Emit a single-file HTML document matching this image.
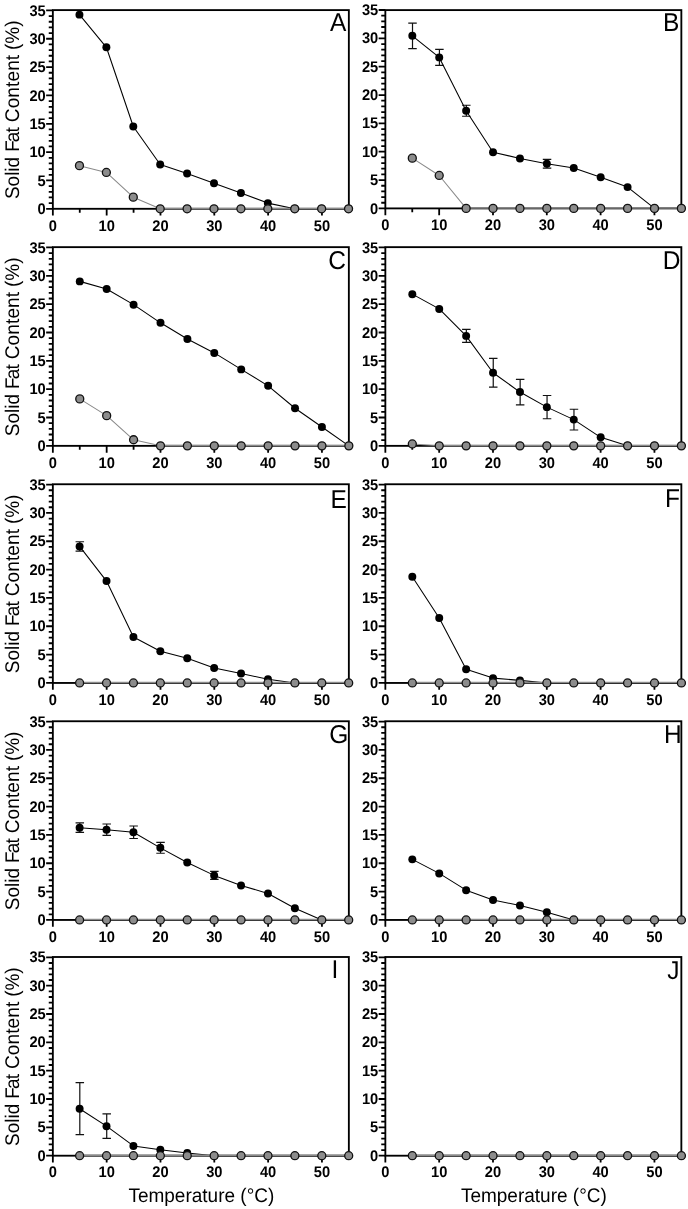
<!DOCTYPE html>
<html lang="en"><head><meta charset="utf-8"><title>Solid Fat Content vs Temperature</title>
<style>html,body{margin:0;padding:0;background:#fff}svg{display:block}text{font-family:"Liberation Sans",Arial,sans-serif;fill:#000;text-rendering:geometricPrecision}.t{font-size:14.7px;font-weight:bold}.yl{font-size:19px}.xl{font-size:19px}.pl{font-size:24.5px}.ax{stroke:#000;stroke-width:1.85;fill:none;stroke-linecap:butt}.tk{stroke:#000;stroke-width:1.8;fill:none}.bl{stroke:#000;stroke-width:1.06;fill:none;stroke-linejoin:round}.gl{stroke:#8a8a8a;stroke-width:1.05;fill:none;stroke-linejoin:round}.gz{stroke:#8a8a8a;stroke-width:1.5;fill:none}.eb{stroke:#111;stroke-width:1.2;fill:none}.bm{fill:#000}.gm{fill:#8c8c8c;stroke:#111;stroke-width:1.3}</style></head><body>
<svg width="688" height="1209" viewBox="0 0 688 1209">
<rect width="688" height="1209" fill="#fff"/>
<g id="panel-A">
<path class="tk" d="M52.85 208.8H46.15M52.85 203.13H48.75M52.85 197.46H48.75M52.85 191.8H48.75M52.85 186.13H48.75M52.85 180.46H46.15M52.85 174.79H48.75M52.85 169.12H48.75M52.85 163.46H48.75M52.85 157.79H48.75M52.85 152.12H46.15M52.85 146.45H48.75M52.85 140.78H48.75M52.85 135.12H48.75M52.85 129.45H48.75M52.85 123.78H46.15M52.85 118.11H48.75M52.85 112.44H48.75M52.85 106.78H48.75M52.85 101.11H48.75M52.85 95.44H46.15M52.85 89.77H48.75M52.85 84.1H48.75M52.85 78.44H48.75M52.85 72.77H48.75M52.85 67.1H46.15M52.85 61.43H48.75M52.85 55.76H48.75M52.85 50.1H48.75M52.85 44.43H48.75M52.85 38.76H46.15M52.85 33.09H48.75M52.85 27.42H48.75M52.85 21.76H48.75M52.85 16.09H48.75M52.85 10.42H46.15M52.85 208.8V215.6M79.76 208.8V212.7M106.67 208.8V215.6M133.58 208.8V212.7M160.49 208.8V215.6M187.4 208.8V212.7M214.3 208.8V215.6M241.21 208.8V212.7M268.12 208.8V215.6M295.03 208.8V212.7M321.94 208.8V215.6M348.85 208.8V212.7"/>
<rect class="ax" x="52.85" y="10.1" width="296" height="198.7"/>
<text class="t" text-anchor="end" transform="translate(45.75 213.9) scale(1 1.05)">0</text>
<text class="t" text-anchor="end" transform="translate(45.75 185.56) scale(1 1.05)">5</text>
<text class="t" text-anchor="end" transform="translate(45.75 157.22) scale(1 1.05)">10</text>
<text class="t" text-anchor="end" transform="translate(45.75 128.88) scale(1 1.05)">15</text>
<text class="t" text-anchor="end" transform="translate(45.75 100.54) scale(1 1.05)">20</text>
<text class="t" text-anchor="end" transform="translate(45.75 72.2) scale(1 1.05)">25</text>
<text class="t" text-anchor="end" transform="translate(45.75 43.86) scale(1 1.05)">30</text>
<text class="t" text-anchor="end" transform="translate(45.75 15.52) scale(1 1.05)">35</text>
<text class="t" text-anchor="middle" transform="translate(52.85 230.5) scale(1 1.05)">0</text>
<text class="t" text-anchor="middle" transform="translate(106.67 230.5) scale(1 1.05)">10</text>
<text class="t" text-anchor="middle" transform="translate(160.49 230.5) scale(1 1.05)">20</text>
<text class="t" text-anchor="middle" transform="translate(214.3 230.5) scale(1 1.05)">30</text>
<text class="t" text-anchor="middle" transform="translate(268.12 230.5) scale(1 1.05)">40</text>
<text class="t" text-anchor="middle" transform="translate(321.94 230.5) scale(1 1.05)">50</text>
<text class="pl" transform="translate(329.95 31.25) scale(1 1.05)">A</text>
<text class="yl" text-anchor="middle" transform="translate(19.3 109.75) rotate(-90) scale(1 1.04)">Solid<tspan dx="-0.3"> F</tspan><tspan dx="-1.9">a</tspan><tspan dx="-0.8">t</tspan><tspan dx="-0.5" letter-spacing="0.13"> Content</tspan><tspan dx="-0.5"> (%)</tspan></text>
<polyline class="bl" points="79.46,14.64 106.37,47.29 133.28,126.48 160.19,164.52 187.1,173.6 214,183.25 240.91,192.9 267.82,203.12 294.73,208.8 321.64,208.8 348.55,208.8"/>
<circle class="bm" cx="79.46" cy="14.64" r="3.98"/>
<circle class="bm" cx="106.37" cy="47.29" r="3.98"/>
<circle class="bm" cx="133.28" cy="126.48" r="3.98"/>
<circle class="bm" cx="160.19" cy="164.52" r="3.98"/>
<circle class="bm" cx="187.1" cy="173.6" r="3.98"/>
<circle class="bm" cx="214" cy="183.25" r="3.98"/>
<circle class="bm" cx="240.91" cy="192.9" r="3.98"/>
<circle class="bm" cx="267.82" cy="203.12" r="3.98"/>
<circle class="bm" cx="294.73" cy="208.8" r="3.98"/>
<circle class="bm" cx="321.64" cy="208.8" r="3.98"/>
<circle class="bm" cx="348.55" cy="208.8" r="3.98"/>
<polyline class="gl" points="79.46,165.65 106.37,172.47 133.28,197.16 160.19,208.8"/>
<path class="gz" d="M160.19 208.45H348.55"/>
<circle class="gm" cx="79.46" cy="165.65" r="4"/>
<circle class="gm" cx="106.37" cy="172.47" r="4"/>
<circle class="gm" cx="133.28" cy="197.16" r="4"/>
<circle class="gm" cx="160.19" cy="208.8" r="4"/>
<circle class="gm" cx="187.1" cy="208.8" r="4"/>
<circle class="gm" cx="214" cy="208.8" r="4"/>
<circle class="gm" cx="240.91" cy="208.8" r="4"/>
<circle class="gm" cx="267.82" cy="208.8" r="4"/>
<circle class="gm" cx="294.73" cy="208.8" r="4"/>
<circle class="gm" cx="321.64" cy="208.8" r="4"/>
<circle class="gm" cx="348.55" cy="208.8" r="4"/>
</g>
<g id="panel-B">
<path class="tk" d="M385.35 208.4H378.65M385.35 202.73H381.25M385.35 197.06H381.25M385.35 191.4H381.25M385.35 185.73H381.25M385.35 180.06H378.65M385.35 174.39H381.25M385.35 168.72H381.25M385.35 163.06H381.25M385.35 157.39H381.25M385.35 151.72H378.65M385.35 146.05H381.25M385.35 140.38H381.25M385.35 134.72H381.25M385.35 129.05H381.25M385.35 123.38H378.65M385.35 117.71H381.25M385.35 112.04H381.25M385.35 106.38H381.25M385.35 100.71H381.25M385.35 95.04H378.65M385.35 89.37H381.25M385.35 83.7H381.25M385.35 78.04H381.25M385.35 72.37H381.25M385.35 66.7H378.65M385.35 61.03H381.25M385.35 55.36H381.25M385.35 49.7H381.25M385.35 44.03H381.25M385.35 38.36H378.65M385.35 32.69H381.25M385.35 27.02H381.25M385.35 21.36H381.25M385.35 15.69H381.25M385.35 10.02H378.65M385.35 208.4V215.2M412.26 208.4V212.3M439.17 208.4V215.2M466.08 208.4V212.3M492.99 208.4V215.2M519.9 208.4V212.3M546.8 208.4V215.2M573.71 208.4V212.3M600.62 208.4V215.2M627.53 208.4V212.3M654.44 208.4V215.2M681.35 208.4V212.3"/>
<rect class="ax" x="385.35" y="10.1" width="296" height="198.3"/>
<text class="t" text-anchor="end" transform="translate(378.25 213.5) scale(1 1.05)">0</text>
<text class="t" text-anchor="end" transform="translate(378.25 185.16) scale(1 1.05)">5</text>
<text class="t" text-anchor="end" transform="translate(378.25 156.82) scale(1 1.05)">10</text>
<text class="t" text-anchor="end" transform="translate(378.25 128.48) scale(1 1.05)">15</text>
<text class="t" text-anchor="end" transform="translate(378.25 100.14) scale(1 1.05)">20</text>
<text class="t" text-anchor="end" transform="translate(378.25 71.8) scale(1 1.05)">25</text>
<text class="t" text-anchor="end" transform="translate(378.25 43.46) scale(1 1.05)">30</text>
<text class="t" text-anchor="end" transform="translate(378.25 15.12) scale(1 1.05)">35</text>
<text class="t" text-anchor="middle" transform="translate(385.35 230.1) scale(1 1.05)">0</text>
<text class="t" text-anchor="middle" transform="translate(439.17 230.1) scale(1 1.05)">10</text>
<text class="t" text-anchor="middle" transform="translate(492.99 230.1) scale(1 1.05)">20</text>
<text class="t" text-anchor="middle" transform="translate(546.8 230.1) scale(1 1.05)">30</text>
<text class="t" text-anchor="middle" transform="translate(600.62 230.1) scale(1 1.05)">40</text>
<text class="t" text-anchor="middle" transform="translate(654.44 230.1) scale(1 1.05)">50</text>
<text class="pl" transform="translate(662.89 31.25) scale(1 1.05)">B</text>
<path class="eb" d="M412.51 23.04V48.59M408.26 23.04H416.76M408.26 48.59H416.76M439.42 49.44V65.34M435.17 49.44H443.67M435.17 65.34H443.67M466.33 105.25V116.26M462.08 105.25H470.58M462.08 116.26H470.58M547.05 159.46V168.21M542.8 159.46H551.3M542.8 168.21H551.3"/>
<polyline class="bl" points="412.31,35.81 439.22,57.39 466.13,110.75 493.04,152.2 519.95,158.44 546.85,163.83 573.76,168.09 600.67,177.18 627.58,187.11 654.49,208.4 681.4,208.4"/>
<circle class="bm" cx="412.31" cy="35.81" r="3.98"/>
<circle class="bm" cx="439.22" cy="57.39" r="3.98"/>
<circle class="bm" cx="466.13" cy="110.75" r="3.98"/>
<circle class="bm" cx="493.04" cy="152.2" r="3.98"/>
<circle class="bm" cx="519.95" cy="158.44" r="3.98"/>
<circle class="bm" cx="546.85" cy="163.83" r="3.98"/>
<circle class="bm" cx="573.76" cy="168.09" r="3.98"/>
<circle class="bm" cx="600.67" cy="177.18" r="3.98"/>
<circle class="bm" cx="627.58" cy="187.11" r="3.98"/>
<circle class="bm" cx="654.49" cy="208.4" r="3.98"/>
<circle class="bm" cx="681.4" cy="208.4" r="3.98"/>
<polyline class="gl" points="412.31,158.16 439.22,175.47 466.13,208.4"/>
<path class="gz" d="M466.13 208.05H681.4"/>
<circle class="gm" cx="412.31" cy="158.16" r="4"/>
<circle class="gm" cx="439.22" cy="175.47" r="4"/>
<circle class="gm" cx="466.13" cy="208.4" r="4"/>
<circle class="gm" cx="493.04" cy="208.4" r="4"/>
<circle class="gm" cx="519.95" cy="208.4" r="4"/>
<circle class="gm" cx="546.85" cy="208.4" r="4"/>
<circle class="gm" cx="573.76" cy="208.4" r="4"/>
<circle class="gm" cx="600.67" cy="208.4" r="4"/>
<circle class="gm" cx="627.58" cy="208.4" r="4"/>
<circle class="gm" cx="654.49" cy="208.4" r="4"/>
<circle class="gm" cx="681.4" cy="208.4" r="4"/>
</g>
<g id="panel-C">
<path class="tk" d="M52.85 445.85H46.15M52.85 440.18H48.75M52.85 434.51H48.75M52.85 428.85H48.75M52.85 423.18H48.75M52.85 417.51H46.15M52.85 411.84H48.75M52.85 406.17H48.75M52.85 400.51H48.75M52.85 394.84H48.75M52.85 389.17H46.15M52.85 383.5H48.75M52.85 377.83H48.75M52.85 372.17H48.75M52.85 366.5H48.75M52.85 360.83H46.15M52.85 355.16H48.75M52.85 349.49H48.75M52.85 343.83H48.75M52.85 338.16H48.75M52.85 332.49H46.15M52.85 326.82H48.75M52.85 321.15H48.75M52.85 315.49H48.75M52.85 309.82H48.75M52.85 304.15H46.15M52.85 298.48H48.75M52.85 292.81H48.75M52.85 287.15H48.75M52.85 281.48H48.75M52.85 275.81H46.15M52.85 270.14H48.75M52.85 264.47H48.75M52.85 258.81H48.75M52.85 253.14H48.75M52.85 247.47H46.15M52.85 445.85V452.65M79.76 445.85V449.75M106.67 445.85V452.65M133.58 445.85V449.75M160.49 445.85V452.65M187.4 445.85V449.75M214.3 445.85V452.65M241.21 445.85V449.75M268.12 445.85V452.65M295.03 445.85V449.75M321.94 445.85V452.65M348.85 445.85V449.75"/>
<rect class="ax" x="52.85" y="247.15" width="296" height="198.7"/>
<text class="t" text-anchor="end" transform="translate(45.75 450.95) scale(1 1.05)">0</text>
<text class="t" text-anchor="end" transform="translate(45.75 422.61) scale(1 1.05)">5</text>
<text class="t" text-anchor="end" transform="translate(45.75 394.27) scale(1 1.05)">10</text>
<text class="t" text-anchor="end" transform="translate(45.75 365.93) scale(1 1.05)">15</text>
<text class="t" text-anchor="end" transform="translate(45.75 337.59) scale(1 1.05)">20</text>
<text class="t" text-anchor="end" transform="translate(45.75 309.25) scale(1 1.05)">25</text>
<text class="t" text-anchor="end" transform="translate(45.75 280.91) scale(1 1.05)">30</text>
<text class="t" text-anchor="end" transform="translate(45.75 252.57) scale(1 1.05)">35</text>
<text class="t" text-anchor="middle" transform="translate(52.85 467.55) scale(1 1.05)">0</text>
<text class="t" text-anchor="middle" transform="translate(106.67 467.55) scale(1 1.05)">10</text>
<text class="t" text-anchor="middle" transform="translate(160.49 467.55) scale(1 1.05)">20</text>
<text class="t" text-anchor="middle" transform="translate(214.3 467.55) scale(1 1.05)">30</text>
<text class="t" text-anchor="middle" transform="translate(268.12 467.55) scale(1 1.05)">40</text>
<text class="t" text-anchor="middle" transform="translate(321.94 467.55) scale(1 1.05)">50</text>
<text class="pl" transform="translate(328.35 268.9) scale(1 1.05)">C</text>
<text class="yl" text-anchor="middle" transform="translate(19.3 346.8) rotate(-90) scale(1 1.04)">Solid<tspan dx="-0.3"> F</tspan><tspan dx="-1.9">a</tspan><tspan dx="-0.8">t</tspan><tspan dx="-0.5" letter-spacing="0.13"> Content</tspan><tspan dx="-0.5"> (%)</tspan></text>
<polyline class="bl" points="79.76,281.38 106.67,289.04 133.58,304.66 160.49,322.82 187.4,339 214.3,352.91 241.21,369.38 268.12,385.84 295.03,408.26 321.94,427 348.85,445.85"/>
<circle class="bm" cx="79.76" cy="281.38" r="3.98"/>
<circle class="bm" cx="106.67" cy="289.04" r="3.98"/>
<circle class="bm" cx="133.58" cy="304.66" r="3.98"/>
<circle class="bm" cx="160.49" cy="322.82" r="3.98"/>
<circle class="bm" cx="187.4" cy="339" r="3.98"/>
<circle class="bm" cx="214.3" cy="352.91" r="3.98"/>
<circle class="bm" cx="241.21" cy="369.38" r="3.98"/>
<circle class="bm" cx="268.12" cy="385.84" r="3.98"/>
<circle class="bm" cx="295.03" cy="408.26" r="3.98"/>
<circle class="bm" cx="321.94" cy="427" r="3.98"/>
<circle class="bm" cx="348.85" cy="445.85" r="3.98"/>
<polyline class="gl" points="79.76,398.9 106.67,415.65 133.58,439.77 160.49,445.85"/>
<path class="gz" d="M160.49 445.5H348.85"/>
<circle class="gm" cx="79.76" cy="398.9" r="4"/>
<circle class="gm" cx="106.67" cy="415.65" r="4"/>
<circle class="gm" cx="133.58" cy="439.77" r="4"/>
<circle class="gm" cx="160.49" cy="445.85" r="4"/>
<circle class="gm" cx="187.4" cy="445.85" r="4"/>
<circle class="gm" cx="214.3" cy="445.85" r="4"/>
<circle class="gm" cx="241.21" cy="445.85" r="4"/>
<circle class="gm" cx="268.12" cy="445.85" r="4"/>
<circle class="gm" cx="295.03" cy="445.85" r="4"/>
<circle class="gm" cx="321.94" cy="445.85" r="4"/>
<circle class="gm" cx="348.85" cy="445.85" r="4"/>
</g>
<g id="panel-D">
<path class="tk" d="M385.35 445.85H378.65M385.35 440.18H381.25M385.35 434.51H381.25M385.35 428.85H381.25M385.35 423.18H381.25M385.35 417.51H378.65M385.35 411.84H381.25M385.35 406.17H381.25M385.35 400.51H381.25M385.35 394.84H381.25M385.35 389.17H378.65M385.35 383.5H381.25M385.35 377.83H381.25M385.35 372.17H381.25M385.35 366.5H381.25M385.35 360.83H378.65M385.35 355.16H381.25M385.35 349.49H381.25M385.35 343.83H381.25M385.35 338.16H381.25M385.35 332.49H378.65M385.35 326.82H381.25M385.35 321.15H381.25M385.35 315.49H381.25M385.35 309.82H381.25M385.35 304.15H378.65M385.35 298.48H381.25M385.35 292.81H381.25M385.35 287.15H381.25M385.35 281.48H381.25M385.35 275.81H378.65M385.35 270.14H381.25M385.35 264.47H381.25M385.35 258.81H381.25M385.35 253.14H381.25M385.35 247.47H378.65M385.35 445.85V452.65M412.26 445.85V449.75M439.17 445.85V452.65M466.08 445.85V449.75M492.99 445.85V452.65M519.9 445.85V449.75M546.8 445.85V452.65M573.71 445.85V449.75M600.62 445.85V452.65M627.53 445.85V449.75M654.44 445.85V452.65M681.35 445.85V449.75"/>
<rect class="ax" x="385.35" y="247.15" width="296" height="198.7"/>
<text class="t" text-anchor="end" transform="translate(378.25 450.95) scale(1 1.05)">0</text>
<text class="t" text-anchor="end" transform="translate(378.25 422.61) scale(1 1.05)">5</text>
<text class="t" text-anchor="end" transform="translate(378.25 394.27) scale(1 1.05)">10</text>
<text class="t" text-anchor="end" transform="translate(378.25 365.93) scale(1 1.05)">15</text>
<text class="t" text-anchor="end" transform="translate(378.25 337.59) scale(1 1.05)">20</text>
<text class="t" text-anchor="end" transform="translate(378.25 309.25) scale(1 1.05)">25</text>
<text class="t" text-anchor="end" transform="translate(378.25 280.91) scale(1 1.05)">30</text>
<text class="t" text-anchor="end" transform="translate(378.25 252.57) scale(1 1.05)">35</text>
<text class="t" text-anchor="middle" transform="translate(385.35 467.55) scale(1 1.05)">0</text>
<text class="t" text-anchor="middle" transform="translate(439.17 467.55) scale(1 1.05)">10</text>
<text class="t" text-anchor="middle" transform="translate(492.99 467.55) scale(1 1.05)">20</text>
<text class="t" text-anchor="middle" transform="translate(546.8 467.55) scale(1 1.05)">30</text>
<text class="t" text-anchor="middle" transform="translate(600.62 467.55) scale(1 1.05)">40</text>
<text class="t" text-anchor="middle" transform="translate(654.44 467.55) scale(1 1.05)">50</text>
<text class="pl" transform="translate(662.79 268.9) scale(1 1.05)">D</text>
<path class="eb" d="M466.33 329.35V342.41M462.08 329.35H470.58M462.08 342.41H470.58M493.24 358.42V387.15M488.99 358.42H497.49M488.99 387.15H497.49M520.15 379.31V404.86M515.9 379.31H524.4M515.9 404.86H524.4M547.05 395.49V418.77M542.8 395.49H551.3M542.8 418.77H551.3M573.96 409.23V430.01M569.71 409.23H578.21M569.71 430.01H578.21"/>
<polyline class="bl" points="412.31,294.15 439.22,308.91 466.13,335.88 493.04,372.78 519.95,392.08 546.85,407.13 573.76,419.62 600.67,437.33 627.58,445.85 654.49,445.85 681.4,445.85"/>
<circle class="bm" cx="412.31" cy="294.15" r="3.98"/>
<circle class="bm" cx="439.22" cy="308.91" r="3.98"/>
<circle class="bm" cx="466.13" cy="335.88" r="3.98"/>
<circle class="bm" cx="493.04" cy="372.78" r="3.98"/>
<circle class="bm" cx="519.95" cy="392.08" r="3.98"/>
<circle class="bm" cx="546.85" cy="407.13" r="3.98"/>
<circle class="bm" cx="573.76" cy="419.62" r="3.98"/>
<circle class="bm" cx="600.67" cy="437.33" r="3.98"/>
<circle class="bm" cx="627.58" cy="445.85" r="3.98"/>
<circle class="bm" cx="654.49" cy="445.85" r="3.98"/>
<circle class="bm" cx="681.4" cy="445.85" r="3.98"/>
<polyline class="gl" points="412.31,443.97 439.22,445.85"/>
<path class="gz" d="M439.22 445.5H681.4"/>
<circle class="gm" cx="412.31" cy="443.97" r="4"/>
<circle class="gm" cx="439.22" cy="445.85" r="4"/>
<circle class="gm" cx="466.13" cy="445.85" r="4"/>
<circle class="gm" cx="493.04" cy="445.85" r="4"/>
<circle class="gm" cx="519.95" cy="445.85" r="4"/>
<circle class="gm" cx="546.85" cy="445.85" r="4"/>
<circle class="gm" cx="573.76" cy="445.85" r="4"/>
<circle class="gm" cx="600.67" cy="445.85" r="4"/>
<circle class="gm" cx="627.58" cy="445.85" r="4"/>
<circle class="gm" cx="654.49" cy="445.85" r="4"/>
<circle class="gm" cx="681.4" cy="445.85" r="4"/>
</g>
<g id="panel-E">
<path class="tk" d="M52.85 682.95H46.15M52.85 677.28H48.75M52.85 671.61H48.75M52.85 665.95H48.75M52.85 660.28H48.75M52.85 654.61H46.15M52.85 648.94H48.75M52.85 643.27H48.75M52.85 637.61H48.75M52.85 631.94H48.75M52.85 626.27H46.15M52.85 620.6H48.75M52.85 614.93H48.75M52.85 609.27H48.75M52.85 603.6H48.75M52.85 597.93H46.15M52.85 592.26H48.75M52.85 586.59H48.75M52.85 580.93H48.75M52.85 575.26H48.75M52.85 569.59H46.15M52.85 563.92H48.75M52.85 558.25H48.75M52.85 552.59H48.75M52.85 546.92H48.75M52.85 541.25H46.15M52.85 535.58H48.75M52.85 529.91H48.75M52.85 524.25H48.75M52.85 518.58H48.75M52.85 512.91H46.15M52.85 507.24H48.75M52.85 501.57H48.75M52.85 495.91H48.75M52.85 490.24H48.75M52.85 484.57H46.15M52.85 682.95V689.75M79.76 682.95V686.85M106.67 682.95V689.75M133.58 682.95V686.85M160.49 682.95V689.75M187.4 682.95V686.85M214.3 682.95V689.75M241.21 682.95V686.85M268.12 682.95V689.75M295.03 682.95V686.85M321.94 682.95V689.75M348.85 682.95V686.85"/>
<rect class="ax" x="52.85" y="484.25" width="296" height="198.7"/>
<text class="t" text-anchor="end" transform="translate(45.75 688.05) scale(1 1.05)">0</text>
<text class="t" text-anchor="end" transform="translate(45.75 659.71) scale(1 1.05)">5</text>
<text class="t" text-anchor="end" transform="translate(45.75 631.37) scale(1 1.05)">10</text>
<text class="t" text-anchor="end" transform="translate(45.75 603.03) scale(1 1.05)">15</text>
<text class="t" text-anchor="end" transform="translate(45.75 574.69) scale(1 1.05)">20</text>
<text class="t" text-anchor="end" transform="translate(45.75 546.35) scale(1 1.05)">25</text>
<text class="t" text-anchor="end" transform="translate(45.75 518.01) scale(1 1.05)">30</text>
<text class="t" text-anchor="end" transform="translate(45.75 489.67) scale(1 1.05)">35</text>
<text class="t" text-anchor="middle" transform="translate(52.85 704.65) scale(1 1.05)">0</text>
<text class="t" text-anchor="middle" transform="translate(106.67 704.65) scale(1 1.05)">10</text>
<text class="t" text-anchor="middle" transform="translate(160.49 704.65) scale(1 1.05)">20</text>
<text class="t" text-anchor="middle" transform="translate(214.3 704.65) scale(1 1.05)">30</text>
<text class="t" text-anchor="middle" transform="translate(268.12 704.65) scale(1 1.05)">40</text>
<text class="t" text-anchor="middle" transform="translate(321.94 704.65) scale(1 1.05)">50</text>
<text class="pl" transform="translate(330.39 507.8) scale(1 1.05)">E</text>
<text class="yl" text-anchor="middle" transform="translate(19.3 583.9) rotate(-90) scale(1 1.04)">Solid<tspan dx="-0.3"> F</tspan><tspan dx="-1.9">a</tspan><tspan dx="-0.8">t</tspan><tspan dx="-0.5" letter-spacing="0.13"> Content</tspan><tspan dx="-0.5"> (%)</tspan></text>
<path class="eb" d="M79.81 541.76V551.07M75.56 541.76H84.06M75.56 551.07H84.06"/>
<polyline class="bl" points="79.61,546.41 106.52,581.05 133.43,636.97 160.34,651.16 187.25,658.25 214.15,667.91 241.06,673.58 267.97,679.26 294.88,682.95 321.79,682.95 348.7,682.95"/>
<circle class="bm" cx="79.61" cy="546.41" r="3.98"/>
<circle class="bm" cx="106.52" cy="581.05" r="3.98"/>
<circle class="bm" cx="133.43" cy="636.97" r="3.98"/>
<circle class="bm" cx="160.34" cy="651.16" r="3.98"/>
<circle class="bm" cx="187.25" cy="658.25" r="3.98"/>
<circle class="bm" cx="214.15" cy="667.91" r="3.98"/>
<circle class="bm" cx="241.06" cy="673.58" r="3.98"/>
<circle class="bm" cx="267.97" cy="679.26" r="3.98"/>
<circle class="bm" cx="294.88" cy="682.95" r="3.98"/>
<circle class="bm" cx="321.79" cy="682.95" r="3.98"/>
<circle class="bm" cx="348.7" cy="682.95" r="3.98"/>
<path class="gz" d="M79.61 682.6H348.7"/>
<circle class="gm" cx="79.61" cy="682.95" r="4"/>
<circle class="gm" cx="106.52" cy="682.95" r="4"/>
<circle class="gm" cx="133.43" cy="682.95" r="4"/>
<circle class="gm" cx="160.34" cy="682.95" r="4"/>
<circle class="gm" cx="187.25" cy="682.95" r="4"/>
<circle class="gm" cx="214.15" cy="682.95" r="4"/>
<circle class="gm" cx="241.06" cy="682.95" r="4"/>
<circle class="gm" cx="267.97" cy="682.95" r="4"/>
<circle class="gm" cx="294.88" cy="682.95" r="4"/>
<circle class="gm" cx="321.79" cy="682.95" r="4"/>
<circle class="gm" cx="348.7" cy="682.95" r="4"/>
</g>
<g id="panel-F">
<path class="tk" d="M385.35 682.95H378.65M385.35 677.28H381.25M385.35 671.61H381.25M385.35 665.95H381.25M385.35 660.28H381.25M385.35 654.61H378.65M385.35 648.94H381.25M385.35 643.27H381.25M385.35 637.61H381.25M385.35 631.94H381.25M385.35 626.27H378.65M385.35 620.6H381.25M385.35 614.93H381.25M385.35 609.27H381.25M385.35 603.6H381.25M385.35 597.93H378.65M385.35 592.26H381.25M385.35 586.59H381.25M385.35 580.93H381.25M385.35 575.26H381.25M385.35 569.59H378.65M385.35 563.92H381.25M385.35 558.25H381.25M385.35 552.59H381.25M385.35 546.92H381.25M385.35 541.25H378.65M385.35 535.58H381.25M385.35 529.91H381.25M385.35 524.25H381.25M385.35 518.58H381.25M385.35 512.91H378.65M385.35 507.24H381.25M385.35 501.57H381.25M385.35 495.91H381.25M385.35 490.24H381.25M385.35 484.57H378.65M385.35 682.95V689.75M412.26 682.95V686.85M439.17 682.95V689.75M466.08 682.95V686.85M492.99 682.95V689.75M519.9 682.95V686.85M546.8 682.95V689.75M573.71 682.95V686.85M600.62 682.95V689.75M627.53 682.95V686.85M654.44 682.95V689.75M681.35 682.95V686.85"/>
<rect class="ax" x="385.35" y="484.25" width="296" height="198.7"/>
<text class="t" text-anchor="end" transform="translate(378.25 688.05) scale(1 1.05)">0</text>
<text class="t" text-anchor="end" transform="translate(378.25 659.71) scale(1 1.05)">5</text>
<text class="t" text-anchor="end" transform="translate(378.25 631.37) scale(1 1.05)">10</text>
<text class="t" text-anchor="end" transform="translate(378.25 603.03) scale(1 1.05)">15</text>
<text class="t" text-anchor="end" transform="translate(378.25 574.69) scale(1 1.05)">20</text>
<text class="t" text-anchor="end" transform="translate(378.25 546.35) scale(1 1.05)">25</text>
<text class="t" text-anchor="end" transform="translate(378.25 518.01) scale(1 1.05)">30</text>
<text class="t" text-anchor="end" transform="translate(378.25 489.67) scale(1 1.05)">35</text>
<text class="t" text-anchor="middle" transform="translate(385.35 704.65) scale(1 1.05)">0</text>
<text class="t" text-anchor="middle" transform="translate(439.17 704.65) scale(1 1.05)">10</text>
<text class="t" text-anchor="middle" transform="translate(492.99 704.65) scale(1 1.05)">20</text>
<text class="t" text-anchor="middle" transform="translate(546.8 704.65) scale(1 1.05)">30</text>
<text class="t" text-anchor="middle" transform="translate(600.62 704.65) scale(1 1.05)">40</text>
<text class="t" text-anchor="middle" transform="translate(654.44 704.65) scale(1 1.05)">50</text>
<text class="pl" transform="translate(664.99 507.2) scale(1 1.05)">F</text>
<polyline class="bl" points="412.31,576.79 439.22,617.95 466.13,669.32 493.04,678.12 519.95,680.4 546.85,682.95 573.76,682.95 600.67,682.95 627.58,682.95 654.49,682.95 681.4,682.95"/>
<circle class="bm" cx="412.31" cy="576.79" r="3.98"/>
<circle class="bm" cx="439.22" cy="617.95" r="3.98"/>
<circle class="bm" cx="466.13" cy="669.32" r="3.98"/>
<circle class="bm" cx="493.04" cy="678.12" r="3.98"/>
<circle class="bm" cx="519.95" cy="680.4" r="3.98"/>
<circle class="bm" cx="546.85" cy="682.95" r="3.98"/>
<circle class="bm" cx="573.76" cy="682.95" r="3.98"/>
<circle class="bm" cx="600.67" cy="682.95" r="3.98"/>
<circle class="bm" cx="627.58" cy="682.95" r="3.98"/>
<circle class="bm" cx="654.49" cy="682.95" r="3.98"/>
<circle class="bm" cx="681.4" cy="682.95" r="3.98"/>
<path class="gz" d="M412.31 682.6H681.4"/>
<circle class="gm" cx="412.31" cy="682.95" r="4"/>
<circle class="gm" cx="439.22" cy="682.95" r="4"/>
<circle class="gm" cx="466.13" cy="682.95" r="4"/>
<circle class="gm" cx="493.04" cy="682.95" r="4"/>
<circle class="gm" cx="519.95" cy="682.95" r="4"/>
<circle class="gm" cx="546.85" cy="682.95" r="4"/>
<circle class="gm" cx="573.76" cy="682.95" r="4"/>
<circle class="gm" cx="600.67" cy="682.95" r="4"/>
<circle class="gm" cx="627.58" cy="682.95" r="4"/>
<circle class="gm" cx="654.49" cy="682.95" r="4"/>
<circle class="gm" cx="681.4" cy="682.95" r="4"/>
</g>
<g id="panel-G">
<path class="tk" d="M52.85 919.95H46.15M52.85 914.28H48.75M52.85 908.61H48.75M52.85 902.95H48.75M52.85 897.28H48.75M52.85 891.61H46.15M52.85 885.94H48.75M52.85 880.27H48.75M52.85 874.61H48.75M52.85 868.94H48.75M52.85 863.27H46.15M52.85 857.6H48.75M52.85 851.93H48.75M52.85 846.27H48.75M52.85 840.6H48.75M52.85 834.93H46.15M52.85 829.26H48.75M52.85 823.59H48.75M52.85 817.93H48.75M52.85 812.26H48.75M52.85 806.59H46.15M52.85 800.92H48.75M52.85 795.25H48.75M52.85 789.59H48.75M52.85 783.92H48.75M52.85 778.25H46.15M52.85 772.58H48.75M52.85 766.91H48.75M52.85 761.25H48.75M52.85 755.58H48.75M52.85 749.91H46.15M52.85 744.24H48.75M52.85 738.57H48.75M52.85 732.91H48.75M52.85 727.24H48.75M52.85 721.57H46.15M52.85 919.95V926.75M79.76 919.95V923.85M106.67 919.95V926.75M133.58 919.95V923.85M160.49 919.95V926.75M187.4 919.95V923.85M214.3 919.95V926.75M241.21 919.95V923.85M268.12 919.95V926.75M295.03 919.95V923.85M321.94 919.95V926.75M348.85 919.95V923.85"/>
<rect class="ax" x="52.85" y="721.25" width="296" height="198.7"/>
<text class="t" text-anchor="end" transform="translate(45.75 925.05) scale(1 1.05)">0</text>
<text class="t" text-anchor="end" transform="translate(45.75 896.71) scale(1 1.05)">5</text>
<text class="t" text-anchor="end" transform="translate(45.75 868.37) scale(1 1.05)">10</text>
<text class="t" text-anchor="end" transform="translate(45.75 840.03) scale(1 1.05)">15</text>
<text class="t" text-anchor="end" transform="translate(45.75 811.69) scale(1 1.05)">20</text>
<text class="t" text-anchor="end" transform="translate(45.75 783.35) scale(1 1.05)">25</text>
<text class="t" text-anchor="end" transform="translate(45.75 755.01) scale(1 1.05)">30</text>
<text class="t" text-anchor="end" transform="translate(45.75 726.67) scale(1 1.05)">35</text>
<text class="t" text-anchor="middle" transform="translate(52.85 941.65) scale(1 1.05)">0</text>
<text class="t" text-anchor="middle" transform="translate(106.67 941.65) scale(1 1.05)">10</text>
<text class="t" text-anchor="middle" transform="translate(160.49 941.65) scale(1 1.05)">20</text>
<text class="t" text-anchor="middle" transform="translate(214.3 941.65) scale(1 1.05)">30</text>
<text class="t" text-anchor="middle" transform="translate(268.12 941.65) scale(1 1.05)">40</text>
<text class="t" text-anchor="middle" transform="translate(321.94 941.65) scale(1 1.05)">50</text>
<text class="pl" transform="translate(329.17 742.6) scale(1 1.05)">G</text>
<text class="yl" text-anchor="middle" transform="translate(19.3 820.9) rotate(-90) scale(1 1.04)">Solid<tspan dx="-0.3"> F</tspan><tspan dx="-1.9">a</tspan><tspan dx="-0.8">t</tspan><tspan dx="-0.5" letter-spacing="0.13"> Content</tspan><tspan dx="-0.5"> (%)</tspan></text>
<path class="eb" d="M79.81 822.93V832.47M75.56 822.93H84.06M75.56 832.47H84.06M106.72 824.01V835.36M102.47 824.01H110.97M102.47 835.36H110.97M133.63 825.99V838.48M129.38 825.99H137.88M129.38 838.48H137.88M160.54 842.46V853.24M156.29 842.46H164.79M156.29 853.24H164.79M214.35 871.3V879.47M210.1 871.3H218.6M210.1 879.47H218.6"/>
<polyline class="bl" points="79.61,827.7 106.52,829.68 133.43,832.24 160.34,847.85 187.25,862.44 214.15,875.38 241.06,885.43 267.97,893.44 294.88,908.2 321.79,919.95 348.7,919.95"/>
<circle class="bm" cx="79.61" cy="827.7" r="3.98"/>
<circle class="bm" cx="106.52" cy="829.68" r="3.98"/>
<circle class="bm" cx="133.43" cy="832.24" r="3.98"/>
<circle class="bm" cx="160.34" cy="847.85" r="3.98"/>
<circle class="bm" cx="187.25" cy="862.44" r="3.98"/>
<circle class="bm" cx="214.15" cy="875.38" r="3.98"/>
<circle class="bm" cx="241.06" cy="885.43" r="3.98"/>
<circle class="bm" cx="267.97" cy="893.44" r="3.98"/>
<circle class="bm" cx="294.88" cy="908.2" r="3.98"/>
<circle class="bm" cx="321.79" cy="919.95" r="3.98"/>
<circle class="bm" cx="348.7" cy="919.95" r="3.98"/>
<path class="gz" d="M79.61 919.6H348.7"/>
<circle class="gm" cx="79.61" cy="919.95" r="4"/>
<circle class="gm" cx="106.52" cy="919.95" r="4"/>
<circle class="gm" cx="133.43" cy="919.95" r="4"/>
<circle class="gm" cx="160.34" cy="919.95" r="4"/>
<circle class="gm" cx="187.25" cy="919.95" r="4"/>
<circle class="gm" cx="214.15" cy="919.95" r="4"/>
<circle class="gm" cx="241.06" cy="919.95" r="4"/>
<circle class="gm" cx="267.97" cy="919.95" r="4"/>
<circle class="gm" cx="294.88" cy="919.95" r="4"/>
<circle class="gm" cx="321.79" cy="919.95" r="4"/>
<circle class="gm" cx="348.7" cy="919.95" r="4"/>
</g>
<g id="panel-H">
<path class="tk" d="M385.35 919.95H378.65M385.35 914.28H381.25M385.35 908.61H381.25M385.35 902.95H381.25M385.35 897.28H381.25M385.35 891.61H378.65M385.35 885.94H381.25M385.35 880.27H381.25M385.35 874.61H381.25M385.35 868.94H381.25M385.35 863.27H378.65M385.35 857.6H381.25M385.35 851.93H381.25M385.35 846.27H381.25M385.35 840.6H381.25M385.35 834.93H378.65M385.35 829.26H381.25M385.35 823.59H381.25M385.35 817.93H381.25M385.35 812.26H381.25M385.35 806.59H378.65M385.35 800.92H381.25M385.35 795.25H381.25M385.35 789.59H381.25M385.35 783.92H381.25M385.35 778.25H378.65M385.35 772.58H381.25M385.35 766.91H381.25M385.35 761.25H381.25M385.35 755.58H381.25M385.35 749.91H378.65M385.35 744.24H381.25M385.35 738.57H381.25M385.35 732.91H381.25M385.35 727.24H381.25M385.35 721.57H378.65M385.35 919.95V926.75M412.26 919.95V923.85M439.17 919.95V926.75M466.08 919.95V923.85M492.99 919.95V926.75M519.9 919.95V923.85M546.8 919.95V926.75M573.71 919.95V923.85M600.62 919.95V926.75M627.53 919.95V923.85M654.44 919.95V926.75M681.35 919.95V923.85"/>
<rect class="ax" x="385.35" y="721.25" width="296" height="198.7"/>
<text class="t" text-anchor="end" transform="translate(378.25 925.05) scale(1 1.05)">0</text>
<text class="t" text-anchor="end" transform="translate(378.25 896.71) scale(1 1.05)">5</text>
<text class="t" text-anchor="end" transform="translate(378.25 868.37) scale(1 1.05)">10</text>
<text class="t" text-anchor="end" transform="translate(378.25 840.03) scale(1 1.05)">15</text>
<text class="t" text-anchor="end" transform="translate(378.25 811.69) scale(1 1.05)">20</text>
<text class="t" text-anchor="end" transform="translate(378.25 783.35) scale(1 1.05)">25</text>
<text class="t" text-anchor="end" transform="translate(378.25 755.01) scale(1 1.05)">30</text>
<text class="t" text-anchor="end" transform="translate(378.25 726.67) scale(1 1.05)">35</text>
<text class="t" text-anchor="middle" transform="translate(385.35 941.65) scale(1 1.05)">0</text>
<text class="t" text-anchor="middle" transform="translate(439.17 941.65) scale(1 1.05)">10</text>
<text class="t" text-anchor="middle" transform="translate(492.99 941.65) scale(1 1.05)">20</text>
<text class="t" text-anchor="middle" transform="translate(546.8 941.65) scale(1 1.05)">30</text>
<text class="t" text-anchor="middle" transform="translate(600.62 941.65) scale(1 1.05)">40</text>
<text class="t" text-anchor="middle" transform="translate(654.44 941.65) scale(1 1.05)">50</text>
<text class="pl" transform="translate(663.99 742.9) scale(1 1.05)">H</text>
<polyline class="bl" points="412.31,859.37 439.22,873.4 466.13,890.15 493.04,899.91 519.95,905.53 546.85,912.29 573.76,919.95 600.67,919.95 627.58,919.95 654.49,919.95 681.4,919.95"/>
<circle class="bm" cx="412.31" cy="859.37" r="3.98"/>
<circle class="bm" cx="439.22" cy="873.4" r="3.98"/>
<circle class="bm" cx="466.13" cy="890.15" r="3.98"/>
<circle class="bm" cx="493.04" cy="899.91" r="3.98"/>
<circle class="bm" cx="519.95" cy="905.53" r="3.98"/>
<circle class="bm" cx="546.85" cy="912.29" r="3.98"/>
<circle class="bm" cx="573.76" cy="919.95" r="3.98"/>
<circle class="bm" cx="600.67" cy="919.95" r="3.98"/>
<circle class="bm" cx="627.58" cy="919.95" r="3.98"/>
<circle class="bm" cx="654.49" cy="919.95" r="3.98"/>
<circle class="bm" cx="681.4" cy="919.95" r="3.98"/>
<path class="gz" d="M412.31 919.6H681.4"/>
<circle class="gm" cx="412.31" cy="919.95" r="4"/>
<circle class="gm" cx="439.22" cy="919.95" r="4"/>
<circle class="gm" cx="466.13" cy="919.95" r="4"/>
<circle class="gm" cx="493.04" cy="919.95" r="4"/>
<circle class="gm" cx="519.95" cy="919.95" r="4"/>
<circle class="gm" cx="546.85" cy="919.95" r="4"/>
<circle class="gm" cx="573.76" cy="919.95" r="4"/>
<circle class="gm" cx="600.67" cy="919.95" r="4"/>
<circle class="gm" cx="627.58" cy="919.95" r="4"/>
<circle class="gm" cx="654.49" cy="919.95" r="4"/>
<circle class="gm" cx="681.4" cy="919.95" r="4"/>
</g>
<g id="panel-I">
<path class="tk" d="M52.85 1155.7H46.15M52.85 1150.03H48.75M52.85 1144.36H48.75M52.85 1138.7H48.75M52.85 1133.03H48.75M52.85 1127.36H46.15M52.85 1121.69H48.75M52.85 1116.02H48.75M52.85 1110.36H48.75M52.85 1104.69H48.75M52.85 1099.02H46.15M52.85 1093.35H48.75M52.85 1087.68H48.75M52.85 1082.02H48.75M52.85 1076.35H48.75M52.85 1070.68H46.15M52.85 1065.01H48.75M52.85 1059.34H48.75M52.85 1053.68H48.75M52.85 1048.01H48.75M52.85 1042.34H46.15M52.85 1036.67H48.75M52.85 1031H48.75M52.85 1025.34H48.75M52.85 1019.67H48.75M52.85 1014H46.15M52.85 1008.33H48.75M52.85 1002.66H48.75M52.85 997H48.75M52.85 991.33H48.75M52.85 985.66H46.15M52.85 979.99H48.75M52.85 974.32H48.75M52.85 968.66H48.75M52.85 962.99H48.75M52.85 957.32H46.15M52.85 1155.7V1162.5M79.76 1155.7V1159.6M106.67 1155.7V1162.5M133.58 1155.7V1159.6M160.49 1155.7V1162.5M187.4 1155.7V1159.6M214.3 1155.7V1162.5M241.21 1155.7V1159.6M268.12 1155.7V1162.5M295.03 1155.7V1159.6M321.94 1155.7V1162.5M348.85 1155.7V1159.6"/>
<rect class="ax" x="52.85" y="957" width="296" height="198.7"/>
<text class="t" text-anchor="end" transform="translate(45.75 1160.8) scale(1 1.05)">0</text>
<text class="t" text-anchor="end" transform="translate(45.75 1132.46) scale(1 1.05)">5</text>
<text class="t" text-anchor="end" transform="translate(45.75 1104.12) scale(1 1.05)">10</text>
<text class="t" text-anchor="end" transform="translate(45.75 1075.78) scale(1 1.05)">15</text>
<text class="t" text-anchor="end" transform="translate(45.75 1047.44) scale(1 1.05)">20</text>
<text class="t" text-anchor="end" transform="translate(45.75 1019.1) scale(1 1.05)">25</text>
<text class="t" text-anchor="end" transform="translate(45.75 990.76) scale(1 1.05)">30</text>
<text class="t" text-anchor="end" transform="translate(45.75 962.42) scale(1 1.05)">35</text>
<text class="t" text-anchor="middle" transform="translate(52.85 1177.4) scale(1 1.05)">0</text>
<text class="t" text-anchor="middle" transform="translate(106.67 1177.4) scale(1 1.05)">10</text>
<text class="t" text-anchor="middle" transform="translate(160.49 1177.4) scale(1 1.05)">20</text>
<text class="t" text-anchor="middle" transform="translate(214.3 1177.4) scale(1 1.05)">30</text>
<text class="t" text-anchor="middle" transform="translate(268.12 1177.4) scale(1 1.05)">40</text>
<text class="t" text-anchor="middle" transform="translate(321.94 1177.4) scale(1 1.05)">50</text>
<text class="pl" transform="translate(331.55 977.9) scale(1 1.05)">I</text>
<text class="yl" text-anchor="middle" transform="translate(19.3 1056.65) rotate(-90) scale(1 1.04)">Solid<tspan dx="-0.3"> F</tspan><tspan dx="-1.9">a</tspan><tspan dx="-0.8">t</tspan><tspan dx="-0.5" letter-spacing="0.13"> Content</tspan><tspan dx="-0.5"> (%)</tspan></text>
<text class="xl" text-anchor="middle" transform="translate(201.35 1202.3) scale(1 1.035)">Temperature (°C)</text>
<path class="eb" d="M79.81 1082.69V1134.69M75.56 1082.69H84.06M75.56 1134.69H84.06M106.72 1113.92V1138.44M102.47 1113.92H110.97M102.47 1138.44H110.97"/>
<polyline class="bl" points="79.61,1108.69 106.52,1126.18 133.43,1145.94 160.34,1149.68 187.25,1152.97 214.15,1155.7 241.06,1155.7 267.97,1155.7 294.88,1155.7 321.79,1155.7 348.7,1155.7"/>
<circle class="bm" cx="79.61" cy="1108.69" r="3.98"/>
<circle class="bm" cx="106.52" cy="1126.18" r="3.98"/>
<circle class="bm" cx="133.43" cy="1145.94" r="3.98"/>
<circle class="bm" cx="160.34" cy="1149.68" r="3.98"/>
<circle class="bm" cx="187.25" cy="1152.97" r="3.98"/>
<circle class="bm" cx="214.15" cy="1155.7" r="3.98"/>
<circle class="bm" cx="241.06" cy="1155.7" r="3.98"/>
<circle class="bm" cx="267.97" cy="1155.7" r="3.98"/>
<circle class="bm" cx="294.88" cy="1155.7" r="3.98"/>
<circle class="bm" cx="321.79" cy="1155.7" r="3.98"/>
<circle class="bm" cx="348.7" cy="1155.7" r="3.98"/>
<path class="gz" d="M79.61 1155.35H348.7"/>
<circle class="gm" cx="79.61" cy="1155.7" r="4"/>
<circle class="gm" cx="106.52" cy="1155.7" r="4"/>
<circle class="gm" cx="133.43" cy="1155.7" r="4"/>
<circle class="gm" cx="160.34" cy="1155.7" r="4"/>
<circle class="gm" cx="187.25" cy="1155.7" r="4"/>
<circle class="gm" cx="214.15" cy="1155.7" r="4"/>
<circle class="gm" cx="241.06" cy="1155.7" r="4"/>
<circle class="gm" cx="267.97" cy="1155.7" r="4"/>
<circle class="gm" cx="294.88" cy="1155.7" r="4"/>
<circle class="gm" cx="321.79" cy="1155.7" r="4"/>
<circle class="gm" cx="348.7" cy="1155.7" r="4"/>
</g>
<g id="panel-J">
<path class="tk" d="M385.35 1155.7H378.65M385.35 1150.03H381.25M385.35 1144.36H381.25M385.35 1138.7H381.25M385.35 1133.03H381.25M385.35 1127.36H378.65M385.35 1121.69H381.25M385.35 1116.02H381.25M385.35 1110.36H381.25M385.35 1104.69H381.25M385.35 1099.02H378.65M385.35 1093.35H381.25M385.35 1087.68H381.25M385.35 1082.02H381.25M385.35 1076.35H381.25M385.35 1070.68H378.65M385.35 1065.01H381.25M385.35 1059.34H381.25M385.35 1053.68H381.25M385.35 1048.01H381.25M385.35 1042.34H378.65M385.35 1036.67H381.25M385.35 1031H381.25M385.35 1025.34H381.25M385.35 1019.67H381.25M385.35 1014H378.65M385.35 1008.33H381.25M385.35 1002.66H381.25M385.35 997H381.25M385.35 991.33H381.25M385.35 985.66H378.65M385.35 979.99H381.25M385.35 974.32H381.25M385.35 968.66H381.25M385.35 962.99H381.25M385.35 957.32H378.65M385.35 1155.7V1162.5M412.26 1155.7V1159.6M439.17 1155.7V1162.5M466.08 1155.7V1159.6M492.99 1155.7V1162.5M519.9 1155.7V1159.6M546.8 1155.7V1162.5M573.71 1155.7V1159.6M600.62 1155.7V1162.5M627.53 1155.7V1159.6M654.44 1155.7V1162.5M681.35 1155.7V1159.6"/>
<rect class="ax" x="385.35" y="957" width="296" height="198.7"/>
<text class="t" text-anchor="end" transform="translate(378.25 1160.8) scale(1 1.05)">0</text>
<text class="t" text-anchor="end" transform="translate(378.25 1132.46) scale(1 1.05)">5</text>
<text class="t" text-anchor="end" transform="translate(378.25 1104.12) scale(1 1.05)">10</text>
<text class="t" text-anchor="end" transform="translate(378.25 1075.78) scale(1 1.05)">15</text>
<text class="t" text-anchor="end" transform="translate(378.25 1047.44) scale(1 1.05)">20</text>
<text class="t" text-anchor="end" transform="translate(378.25 1019.1) scale(1 1.05)">25</text>
<text class="t" text-anchor="end" transform="translate(378.25 990.76) scale(1 1.05)">30</text>
<text class="t" text-anchor="end" transform="translate(378.25 962.42) scale(1 1.05)">35</text>
<text class="t" text-anchor="middle" transform="translate(385.35 1177.4) scale(1 1.05)">0</text>
<text class="t" text-anchor="middle" transform="translate(439.17 1177.4) scale(1 1.05)">10</text>
<text class="t" text-anchor="middle" transform="translate(492.99 1177.4) scale(1 1.05)">20</text>
<text class="t" text-anchor="middle" transform="translate(546.8 1177.4) scale(1 1.05)">30</text>
<text class="t" text-anchor="middle" transform="translate(600.62 1177.4) scale(1 1.05)">40</text>
<text class="t" text-anchor="middle" transform="translate(654.44 1177.4) scale(1 1.05)">50</text>
<text class="pl" transform="translate(667.21 979) scale(1 1.05)">J</text>
<text class="xl" text-anchor="middle" transform="translate(533.85 1202.3) scale(1 1.035)">Temperature (°C)</text>
<polyline class="bl" points="412.31,1155.7 439.22,1155.7 466.13,1155.7 493.04,1155.7 519.95,1155.7 546.85,1155.7 573.76,1155.7 600.67,1155.7 627.58,1155.7 654.49,1155.7 681.4,1155.7"/>
<circle class="bm" cx="412.31" cy="1155.7" r="3.98"/>
<circle class="bm" cx="439.22" cy="1155.7" r="3.98"/>
<circle class="bm" cx="466.13" cy="1155.7" r="3.98"/>
<circle class="bm" cx="493.04" cy="1155.7" r="3.98"/>
<circle class="bm" cx="519.95" cy="1155.7" r="3.98"/>
<circle class="bm" cx="546.85" cy="1155.7" r="3.98"/>
<circle class="bm" cx="573.76" cy="1155.7" r="3.98"/>
<circle class="bm" cx="600.67" cy="1155.7" r="3.98"/>
<circle class="bm" cx="627.58" cy="1155.7" r="3.98"/>
<circle class="bm" cx="654.49" cy="1155.7" r="3.98"/>
<circle class="bm" cx="681.4" cy="1155.7" r="3.98"/>
<path class="gz" d="M412.31 1155.35H681.4"/>
<circle class="gm" cx="412.31" cy="1155.7" r="4"/>
<circle class="gm" cx="439.22" cy="1155.7" r="4"/>
<circle class="gm" cx="466.13" cy="1155.7" r="4"/>
<circle class="gm" cx="493.04" cy="1155.7" r="4"/>
<circle class="gm" cx="519.95" cy="1155.7" r="4"/>
<circle class="gm" cx="546.85" cy="1155.7" r="4"/>
<circle class="gm" cx="573.76" cy="1155.7" r="4"/>
<circle class="gm" cx="600.67" cy="1155.7" r="4"/>
<circle class="gm" cx="627.58" cy="1155.7" r="4"/>
<circle class="gm" cx="654.49" cy="1155.7" r="4"/>
<circle class="gm" cx="681.4" cy="1155.7" r="4"/>
</g>
</svg></body></html>
